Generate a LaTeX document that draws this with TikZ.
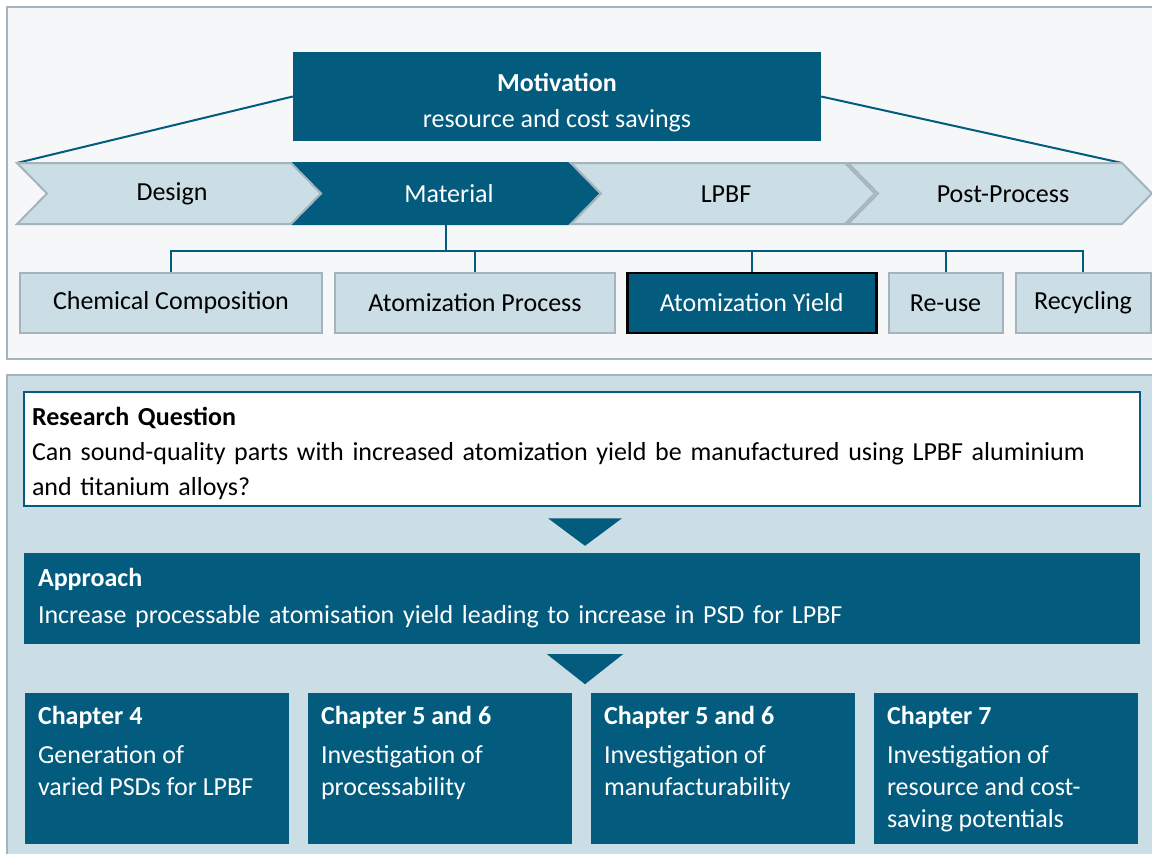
\documentclass[tikz,border=0pt]{standalone}
\usepackage{fontspec}
\setmainfont{Carlito}
\usetikzlibrary{positioning,calc}

\definecolor{petrol}{HTML}{035B7E}
\definecolor{paleblue}{HTML}{CBDDE5}
\definecolor{panelgrey}{HTML}{F5F7F9}
\definecolor{rimgrey}{HTML}{A5B3BD}

\tikzset{
  panel/.style={draw=rimgrey,line width=1.5pt},
  link/.style={draw=petrol,line width=2pt},
  chevlight/.style={draw=rimgrey,fill=paleblue,line width=2pt,line join=miter},
  chevdark/.style={draw=petrol,fill=petrol,line width=2pt,line join=miter},
  subbox/.style={draw=rimgrey,fill=paleblue,line width=2pt,minimum height=60pt,inner sep=0pt},
  yieldbox/.style={subbox,draw=black,fill=petrol,text=white,line width=2.5pt},
  darkbox/.style={fill=petrol,text=white,inner sep=0pt},
  chapbox/.style={darkbox,minimum width=264pt,minimum height=151pt},
  chaptext/.style={text=white,align=left,inner sep=0pt,anchor=north west,
    font=\fontsize{26}{32}\selectfont}
}

\begin{document}
\begin{tikzpicture}[x=1pt,y=-1pt,font=\fontsize{26}{30}\selectfont]
  \clip (0,0) rectangle (1152,854);
  \fill[white] (0,0) rectangle (1152,854);

  % upper panel: motivation and process chain
  \draw[panel,fill=panelgrey] (7,7) rectangle (1170,359);
  \node[darkbox,minimum width=528pt,minimum height=89pt,align=center,text height=66pt,
    font=\fontsize{26}{36}\selectfont] (motiv) at (557,96.5)
    {\textbf{Motivation}\\resource and cost savings};

  \coordinate (chevL) at (17,163);
  \coordinate (chevR) at (1122,163);
  \draw[link] (motiv.west) -- (chevL);
  \draw[link] (motiv.east) -- (chevR);

  \foreach \x/\name/\txt/\look/\ink in {17/design/Design/chevlight/black,
      294/material/Material/chevdark/white, 571/lpbf/LPBF/chevlight/black,
      848/post/Post-Process/chevlight/black}{
    \draw[\look] (\x,163) -- ++(274,0) -- ++(30,30.5) -- ++(-30,30.5)
      -- ++(-274,0) -- ++(30,-30.5) -- cycle;
    \node[text=\ink,minimum height=61pt,inner sep=0pt] (\name) at (\x+155,194) {\txt};
  }

  \node[subbox,minimum width=302pt] (chem) at (171,303) {Chemical Composition};
  \node[subbox,minimum width=280pt,right=11pt of chem] (atproc) {Atomization Process};
  \node[yieldbox,minimum width=249pt,right=10pt of atproc] (yield) {Atomization Yield};
  \node[subbox,minimum width=114pt,right=10pt of yield] (reuse) {Re-use};
  \node[subbox,minimum width=135pt,right=11pt of reuse] (recyc) {Recycling};

  \coordinate (bus) at ($(material.south)+(-3,26)$);
  \draw[link] (material.south -| bus) -- (bus);
  \foreach \b in {chem,atproc,yield,reuse,recyc}
    \draw[link] (bus) -| (\b.north);

  % lower panel: question, approach, chapters
  \draw[panel,fill=paleblue] (7,375) rectangle (1170,880);
  \node[draw=petrol,line width=2.5pt,fill=white,minimum width=1116pt,minimum height=114pt,
    text width=1100pt,inner xsep=8pt,inner ysep=0pt,align=left,text height=26.5pt,
    font=\fontsize{26}{35}\selectfont] (rq) at (582,449)
    {\textbf{Research Question}\\
     Can sound-quality parts with increased atomization yield be manufactured using LPBF aluminium\\
     and titanium alloys?};

  \node[darkbox,minimum width=1116pt,minimum height=91pt,text width=1088pt,
    inner xsep=14pt,align=left,font=\fontsize{26}{37}\selectfont] (approach) at (582,598.5)
    {\textbf{Approach}\\
     Increase processable atomisation yield leading to increase in PSD for LPBF};

  \fill[petrol] ($(rq.south)+(-34,11)$) -- ++(74,0) -- ($(approach.north)+(3,-7)$) -- cycle;
  \fill[petrol] ($(approach.south)+(-35,10)$) -- ++(76,0) -- ($(approach.south)+(3,40)$) -- cycle;

  \foreach \i/\title/\body in {1/{Chapter 4}/{Generation of\\varied PSDs for LPBF},
      2/{Chapter 5 and 6}/{Investigation of\\processability},
      3/{Chapter 5 and 6}/{Investigation of\\manufacturability},
      4/{Chapter 7}/{Investigation of\\resource and cost-\\saving potentials}}{
    \node[chapbox] (ch\i) at (157+283*\i-283,768.5) {};
    \node[chaptext] (ch\i txt) at ([shift={(13,13.5)}]ch\i.north west)
      {\textbf{\title}\\[7pt]\body};
  }
\end{tikzpicture}
\end{document}
